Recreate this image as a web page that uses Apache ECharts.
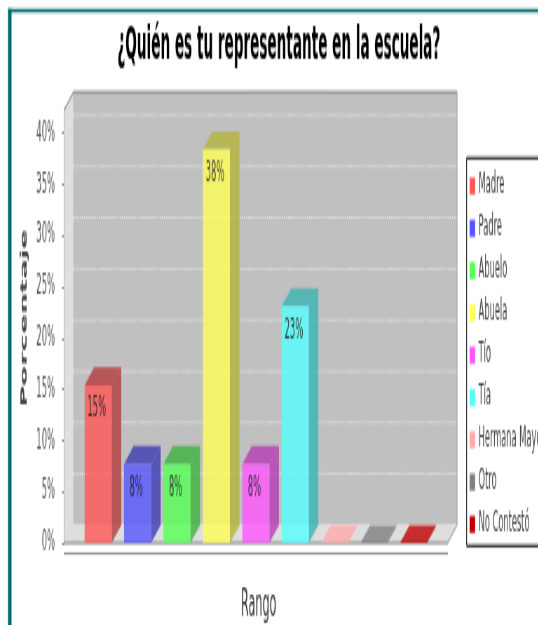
<!DOCTYPE html>
<html><head><meta charset="utf-8">
<style>
html,body{margin:0;padding:0;background:#fff;overflow:hidden;width:538px;height:626px}
#c{position:absolute;left:0;top:0;transform-origin:0 0}
</style>
<script src="https://cdn.jsdelivr.net/npm/echarts@6/dist/echarts.min.js"></script>
</head><body><div id="c"></div>
<script>
var titleText = '¿Quién es tu representante en la escuela?';
var categories = ['Madre','Padre','Abuelo','Abuela','Tío','Tía','Hermana Mayor','Otro','No Contestó'];
var values = [15.4,7.7,7.7,38.4,7.7,23.1,0,0,0];
var colors = ['#ff5555','#5555ff','#55ff55','#ffff55','#ff55ff','#55ffff','#ffaaaa','#808080','#c00000'];
var yTicks = [0,5,10,15,20,25,30,35,40];

// The reference is a picture stretched anisotropically: draw unstretched, then stretch.
var SX = 0.7, SY = 2.35;
var W = 538/SX, H = 626/SY;
var el = document.getElementById('c');
el.style.width = W+'px'; el.style.height = H+'px';
el.style.transform = 'scale('+SX+','+SY+')';
function px(x){return x/SX;} function py(y){return y/SY;}
var DX = px(9.5), DY = py(18);
var FONT = '"DejaVu Sans"';
function darker(c){
  var a = echarts.color.parse(c);
  return 'rgb('+Math.round(a[0]*0.7)+','+Math.round(a[1]*0.7)+','+Math.round(a[2]*0.7)+')';
}

function wallItem(params, api){
  var g = params.coordSys, l=g.x, r=g.x+g.width, t=g.y, b=g.y+g.height;
  var kids = [
    {type:'polygon',shape:{points:[[l,t],[l+DX,t-DY],[l+DX,b-DY],[l,b]]},style:{fill:'#dedede',stroke:'#b0b0b0',lineWidth:0.7}},
    {type:'polygon',shape:{points:[[l,b],[l+DX,b-DY],[r+DX,b-DY],[r,b]]},style:{fill:'#dedede'}},
    {type:'rect',shape:{x:l+DX,y:t-DY,width:r-l,height:b-t},style:{fill:'#c0c0c0'}}
  ];
  yTicks.forEach(function(v){
    var y = api.coord([0,v])[1];
    kids.push({type:'line',shape:{x1:l+DX,y1:y-DY,x2:r+DX,y2:y-DY},style:{stroke:'#e8e8e8',lineWidth:1,lineDash:[1.5,1.5]}});
    kids.push({type:'line',shape:{x1:l,y1:y,x2:l+DX,y2:y-DY},style:{stroke:'#ececec',lineWidth:0.6}});
  });
  kids.push({type:'line',shape:{x1:l+DX,y1:t-DY,x2:r+DX,y2:t-DY},style:{stroke:'#808080',lineWidth:1}});
  kids.push({type:'line',shape:{x1:r+DX,y1:t-DY,x2:r+DX,y2:b-DY},style:{stroke:'#a0a0a0',lineWidth:1}});
  kids.push({type:'line',shape:{x1:r,y1:b,x2:r+DX,y2:b-DY},style:{stroke:'#a0a0a0',lineWidth:1}});
  kids.push({type:'line',shape:{x1:l,y1:t,x2:l+DX,y2:t-DY},style:{stroke:'#909090',lineWidth:1}});
  kids.push({type:'line',shape:{x1:l,y1:b,x2:r,y2:b},style:{stroke:'#858585',lineWidth:1}});
  return {type:'group',children:kids};
}
function barItem(i){
  return function(params, api){
    var base = api.coord([0,0]), top = api.coord([0,api.value(1)]);
    var band = api.size([1,0])[0], step = band*0.1028, w = band*0.0705;
    var x0 = base[0]+(i-4)*step-w/2, x1 = x0+w, yb = base[1], yt = top[1];
    var c = colors[i], dark = darker(c);
    var kids = [
      {type:'polygon',shape:{points:[[x1,yb],[x1+DX,yb-DY],[x1+DX,yt-DY],[x1,yt]]},style:{fill:dark,opacity:0.8}},
      {type:'polygon',shape:{points:[[x0,yt],[x0+DX,yt-DY],[x1+DX,yt-DY],[x1,yt]]},style:{fill:api.value(1)>0?dark:c,opacity:0.8}},
      {type:'rect',shape:{x:x0,y:yt,width:w,height:yb-yt},style:{fill:c,opacity:0.8}}
    ];
    if(api.value(1)>0){
      kids.push({type:'text',style:{text:Math.round(api.value(1))+'%',x:(x0+x1)/2-2,y:yt+py(24),align:'center',verticalAlign:'middle',fill:'rgba(30,30,30,0.85)',font:'12px '+FONT}});
    }
    return {type:'group',children:kids};
  };
}
var series = [{type:'custom',name:'_walls',silent:true,z:1,data:[[0,0]],encode:{x:0,y:1},renderItem:wallItem,clip:false}];
categories.forEach(function(name,i){
  series.push({type:'custom',name:name,z:2,data:[[0,values[i]]],encode:{x:0,y:1},itemStyle:{color:colors[i]},renderItem:barItem(i),clip:false});
});
var chart = echarts.init(el,null,{renderer:'canvas',width:W,height:H});
chart.setOption({
  animation:false,
  backgroundColor:'#fff',
  graphic:[
    {type:'rect',silent:true,shape:{x:px(8),y:py(9),width:px(3.5),height:H},style:{fill:'#006b6b'}},
    {type:'rect',silent:true,shape:{x:px(8),y:py(9),width:W,height:py(3.5)},style:{fill:'#006b6b'}}
  ],
  title:{text:titleText,left:px(275),top:py(14),textAlign:'center',textStyle:{fontFamily:FONT,fontWeight:'bold',fontSize:19.4,color:'#000'}},
  grid:{left:px(64),top:py(110),width:px(383),height:py(433),outerBoundsMode:'none'},
  xAxis:{type:'category',data:['Rango'],offset:py(10),name:'Rango',nameLocation:'middle',nameGap:14.8,
    nameTextStyle:{fontFamily:FONT,fontSize:16,color:'#333',padding:[0,0,0,8]},
    axisLine:{onZero:false,lineStyle:{color:'#999',width:1}},axisTick:{alignWithLabel:true,length:2,lineStyle:{color:'#888'}},axisLabel:{show:false}},
  yAxis:{type:'value',min:0,max:42.25,interval:5,name:'Porcentaje',nameLocation:'middle',nameGap:44,
    nameTextStyle:{fontFamily:FONT,fontWeight:'bold',fontSize:12.5,color:'#444',padding:[0,0,0,7]},
    axisLine:{show:true,lineStyle:{color:'#aaa',width:2}},
    axisTick:{show:true,length:3,lineStyle:{color:'#888'},customValues:yTicks},
    axisLabel:{fontFamily:FONT,fontSize:12,color:'#555',margin:13,padding:[5,0,0,0],customValues:yTicks,formatter:'{value}%'},
    splitLine:{show:false}},
  legend:{orient:'vertical',left:px(466),top:py(158),data:categories,icon:'rect',itemWidth:px(5.5),itemHeight:py(17),itemGap:6,itemTextGap:2,
    padding:[5.9,20,3.1,px(3)],borderColor:'#000',borderWidth:1,backgroundColor:'#fff',selectedMode:false,
    textStyle:{fontFamily:FONT,fontSize:11.8,color:'#444'}},
  series:series
});
</script></body></html>
